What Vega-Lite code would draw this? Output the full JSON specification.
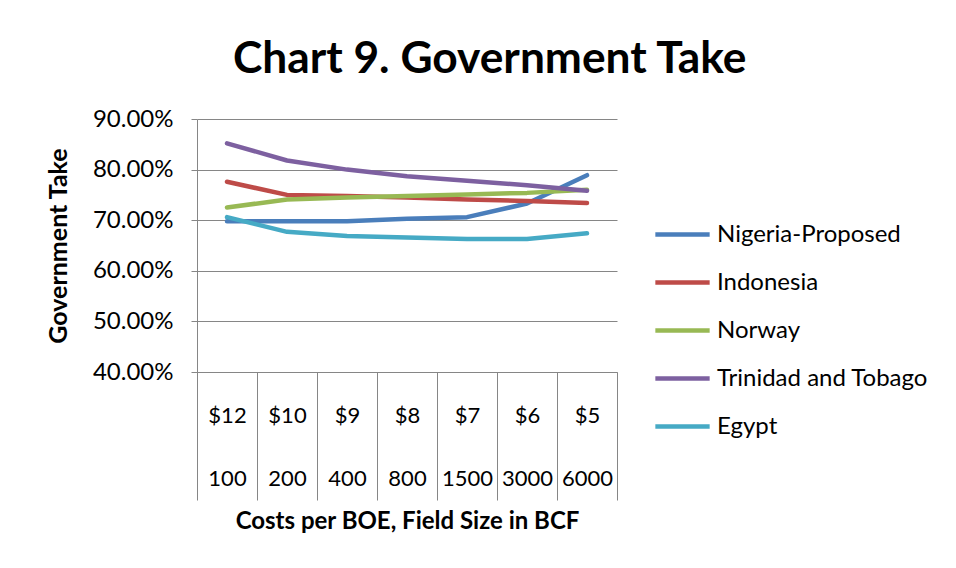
{
  "$schema": "https://vega.github.io/schema/vega-lite/v6.json",
  "width": 420,
  "height": 253,
  "autosize": {"type": "none"},
  "padding": {"left": 197, "top": 119, "right": 339, "bottom": 196},
  "background": "white",
  "title": {
    "text": "Chart 9. Government Take",
    "font": "Lato",
    "fontSize": 44.3,
    "fontWeight": "bold",
    "color": "#000000",
    "anchor": "middle",
    "frame": "bounds",
    "offset": 25,
    "dx": 2
  },
  "config": {
    "view": {"stroke": null},
    "font": "Lato"
  },
  "data": {
    "values": [
      {"cat": "$12|100", "series": "Nigeria-Proposed", "value": 0.698},
      {"cat": "$10|200", "series": "Nigeria-Proposed", "value": 0.698},
      {"cat": "$9|400", "series": "Nigeria-Proposed", "value": 0.698},
      {"cat": "$8|800", "series": "Nigeria-Proposed", "value": 0.703},
      {"cat": "$7|1500", "series": "Nigeria-Proposed", "value": 0.706},
      {"cat": "$6|3000", "series": "Nigeria-Proposed", "value": 0.733},
      {"cat": "$5|6000", "series": "Nigeria-Proposed", "value": 0.789},
      {"cat": "$12|100", "series": "Indonesia", "value": 0.776},
      {"cat": "$10|200", "series": "Indonesia", "value": 0.750},
      {"cat": "$9|400", "series": "Indonesia", "value": 0.748},
      {"cat": "$8|800", "series": "Indonesia", "value": 0.745},
      {"cat": "$7|1500", "series": "Indonesia", "value": 0.741},
      {"cat": "$6|3000", "series": "Indonesia", "value": 0.738},
      {"cat": "$5|6000", "series": "Indonesia", "value": 0.734},
      {"cat": "$12|100", "series": "Norway", "value": 0.725},
      {"cat": "$10|200", "series": "Norway", "value": 0.741},
      {"cat": "$9|400", "series": "Norway", "value": 0.745},
      {"cat": "$8|800", "series": "Norway", "value": 0.748},
      {"cat": "$7|1500", "series": "Norway", "value": 0.751},
      {"cat": "$6|3000", "series": "Norway", "value": 0.754},
      {"cat": "$5|6000", "series": "Norway", "value": 0.760},
      {"cat": "$12|100", "series": "Trinidad and Tobago", "value": 0.852},
      {"cat": "$10|200", "series": "Trinidad and Tobago", "value": 0.818},
      {"cat": "$9|400", "series": "Trinidad and Tobago", "value": 0.800},
      {"cat": "$8|800", "series": "Trinidad and Tobago", "value": 0.787},
      {"cat": "$7|1500", "series": "Trinidad and Tobago", "value": 0.778},
      {"cat": "$6|3000", "series": "Trinidad and Tobago", "value": 0.769},
      {"cat": "$5|6000", "series": "Trinidad and Tobago", "value": 0.758},
      {"cat": "$12|100", "series": "Egypt", "value": 0.706},
      {"cat": "$10|200", "series": "Egypt", "value": 0.677},
      {"cat": "$9|400", "series": "Egypt", "value": 0.669},
      {"cat": "$8|800", "series": "Egypt", "value": 0.666},
      {"cat": "$7|1500", "series": "Egypt", "value": 0.663},
      {"cat": "$6|3000", "series": "Egypt", "value": 0.663},
      {"cat": "$5|6000", "series": "Egypt", "value": 0.674}
    ]
  },
  "mark": {"type": "line", "strokeWidth": 4.5, "strokeCap": "round", "strokeJoin": "round"},
  "encoding": {
    "x": {
      "field": "cat",
      "type": "ordinal",
      "sort": ["$12|100", "$10|200", "$9|400", "$8|800", "$7|1500", "$6|3000", "$5|6000"],
      "scale": {"paddingInner": 0, "paddingOuter": 0},
      "axis": {
        "title": "Costs per BOE, Field Size in BCF",
        "titleFont": "Lato",
        "titleFontSize": 24,
        "titleFontWeight": "bold",
        "titleColor": "#000000",
        "titlePadding": 9,
        "labelExpr": "isValid(datum.value) ? split(datum.value, '|') : ''",
        "labelAngle": 0,
        "labelFont": "Lato",
        "labelFontSize": 22,
        "labelColor": "#000000",
        "labelLineHeight": 63,
        "labelBaseline": "top",
        "labelPadding": -95,
        "tickBand": "extent",
        "tickSize": 128,
        "tickColor": "#868686",
        "tickWidth": 1,
        "domainColor": "#868686",
        "domainWidth": 1,
        "grid": false
      }
    },
    "y": {
      "field": "value",
      "type": "quantitative",
      "scale": {"domain": [0.4, 0.9], "nice": false, "zero": false},
      "axis": {
        "values": [0.4, 0.5, 0.6, 0.7, 0.8, 0.9],
        "format": ".2%",
        "title": "Government Take",
        "titleFont": "Lato",
        "titleFontSize": 25,
        "titleFontWeight": "bold",
        "titleColor": "#000000",
        "titlePadding": 21,
        "labelFont": "Lato",
        "labelFontSize": 24,
        "labelColor": "#000000",
        "labelPadding": 18,
        "tickSize": 6,
        "tickColor": "#868686",
        "domainColor": "#868686",
        "gridColor": "#868686",
        "gridWidth": 1
      }
    },
    "color": {
      "field": "series",
      "type": "nominal",
      "sort": ["Nigeria-Proposed", "Indonesia", "Norway", "Trinidad and Tobago", "Egypt"],
      "scale": {
        "domain": ["Nigeria-Proposed", "Indonesia", "Norway", "Trinidad and Tobago", "Egypt"],
        "range": ["#4A7EBB", "#BE4B48", "#98B954", "#7D60A0", "#46AAC5"]
      },
      "legend": {
        "title": null,
        "orient": "none",
        "legendX": 456,
        "legendY": 86,
        "symbolType": "stroke",
        "symbolSize": 2950,
        "symbolStrokeWidth": 4.5,
        "labelFont": "Lato",
        "labelFontSize": 24,
        "labelColor": "#000000",
        "labelLimit": 400,
        "labelOffset": 5,
        "rowPadding": 6,
        "padding": 0
      }
    }
  }
}
